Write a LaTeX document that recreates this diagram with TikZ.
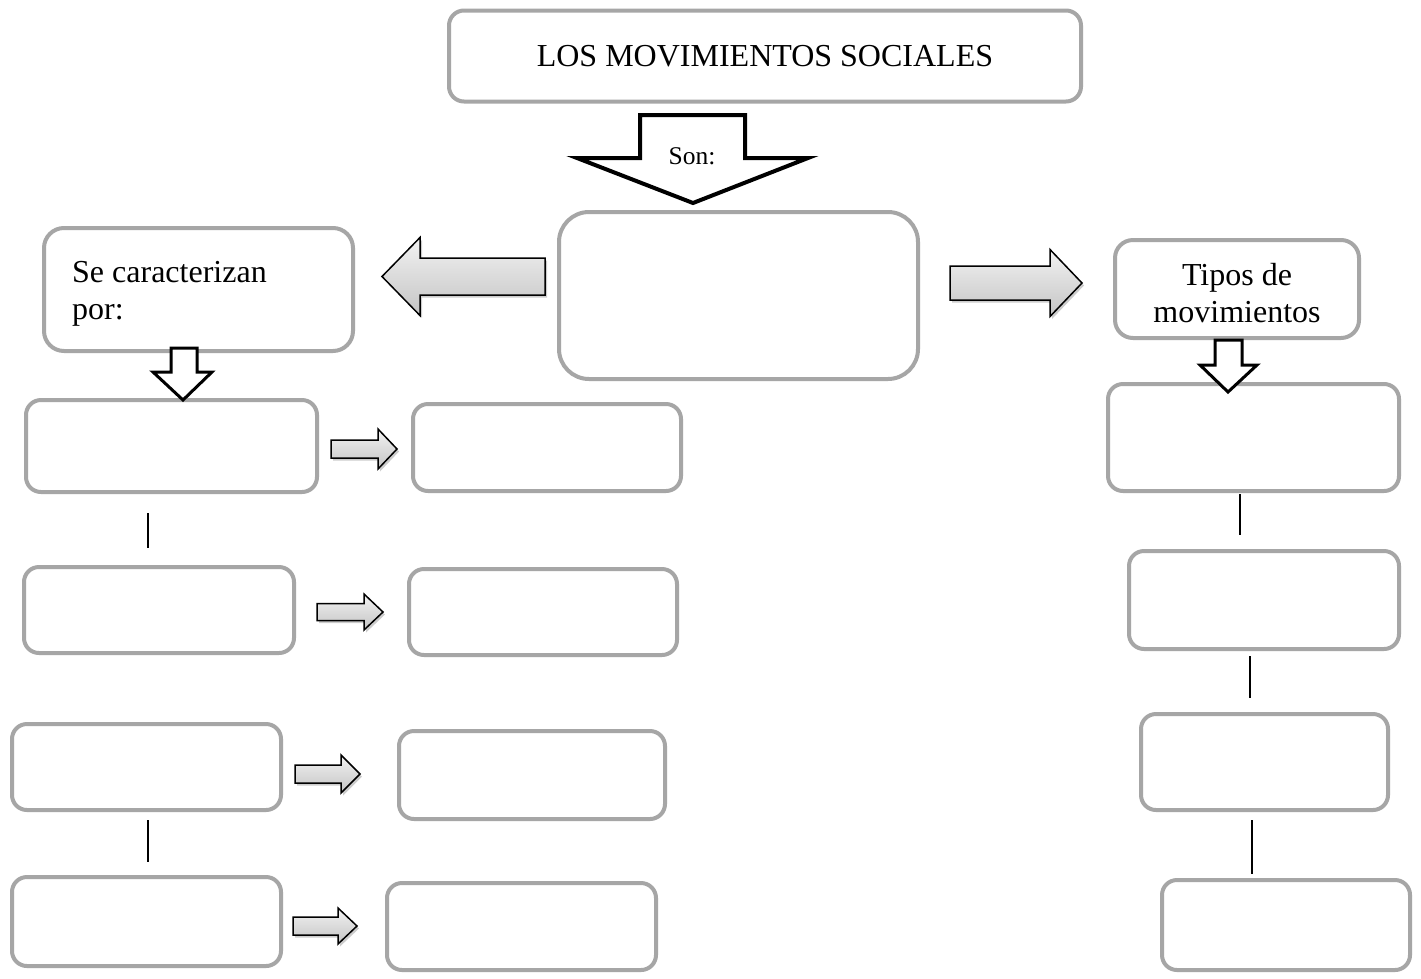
\documentclass[tikz,border=0pt]{standalone}
\usepackage{fontspec}
\setmainfont{Liberation Serif}
\usetikzlibrary{shadows}
\definecolor{boxgray}{HTML}{A6A6A6}
\definecolor{arrtop}{HTML}{F2F2F2}
\definecolor{arrbot}{HTML}{C4C4C4}
\tikzset{
  box/.style={draw=boxgray, line width=4pt, rounded corners=15pt, fill=white, inner sep=0pt},
  bigtext/.style={font=\fontsize{32}{37}\selectfont},
  grayarr/.style={draw=black, line width=1.5pt, line join=miter, top color=arrtop, bottom color=arrbot,
    drop shadow={shadow xshift=2pt, shadow yshift=-2.5pt, opacity=0.2, fill=black}},
  downarr/.style={draw=black, fill=white, line join=miter},
  vline/.style={draw=black, line width=2pt}
}
\newcommand\hgarrow[6]{% x1 x2 xh yc hb hh
  \draw[grayarr] (#1,#4-#5) -- (#3,#4-#5) -- (#3,#4-#6) -- (#2,#4) -- (#3,#4+#6) -- (#3,#4+#5) -- (#1,#4+#5) -- cycle;}
\newcommand\vdarrow[9]{% linewidth sx1 sx2 top shoulder hx1 hx2 tipx tipy
  \draw[downarr, line width=#1] (#2,#4) -- (#3,#4) -- (#3,#5) -- (#7,#5) -- (#8,#9) -- (#6,#5) -- (#2,#5) -- cycle;}
\begin{document}
\begin{tikzpicture}[x=1pt, y=-1pt]
  \useasboundingbox[fill=white] (0,0) rectangle (1421,978);

  % top boxes
  \node[box, bigtext, minimum width=632pt, minimum height=91pt] (title) at (765,56) {LOS MOVIMIENTOS SOCIALES};
  \node[box, rounded corners=30pt, minimum width=359pt, minimum height=167pt] (center) at (738.5,295.5) {};
  \node[box, rounded corners=20pt, minimum width=309pt, minimum height=123pt] (carac) at (198.5,289.5) {};
  \node[bigtext, anchor=north west, inner sep=0pt, align=left] (caracT) at (72,261) {Se caracterizan\\por:};
  \node[box, rounded corners=18pt, minimum width=244pt, minimum height=98pt] (tipos) at (1237,289) {};
  \node[bigtext, anchor=north, inner sep=0pt, align=center] (tiposT) at (1237,263) {Tipos de\\movimientos};

  % left column
  \node[box, minimum width=291pt, minimum height=92pt] (L1) at (171.5,446) {};
  \node[box, minimum width=270pt, minimum height=86pt] (L2) at (159,610) {};
  \node[box, minimum width=269pt, minimum height=86pt] (L3) at (146.5,767) {};
  \node[box, minimum width=269pt, minimum height=89pt] (L4) at (146.5,921.5) {};
  % middle column
  \node[box, minimum width=268pt, minimum height=87pt] (M1) at (547,447.5) {};
  \node[box, minimum width=268pt, minimum height=86pt] (M2) at (543,612) {};
  \node[box, minimum width=266pt, minimum height=88pt] (M3) at (532,775) {};
  \node[box, minimum width=269pt, minimum height=87pt] (M4) at (521.5,926.5) {};
  % right column
  \node[box, minimum width=291pt, minimum height=107pt] (R1) at (1253.5,437.5) {};
  \node[box, minimum width=270pt, minimum height=98pt] (R2) at (1264,600) {};
  \node[box, minimum width=247pt, minimum height=96pt] (R3) at (1264.5,762) {};
  \node[box, minimum width=248pt, minimum height=90pt] (R4) at (1286,925) {};

  % down arrows
  \vdarrow{4pt}{640}{745}{115}{158}{577}{808}{693}{203}
  \node[font=\fontsize{25.5}{30}\selectfont, anchor=base] (son) at (692,164) {Son:};
  \vdarrow{3pt}{171}{197}{348}{372}{153}{212}{183}{400}
  \vdarrow{3pt}{1215}{1242}{340}{365}{1200}{1257}{1228}{392}

  % big gray arrows
  \hgarrow{545}{382}{420}{276.5}{18.5}{39}
  \hgarrow{950}{1082}{1050}{283}{17}{33.5}
  % small gray arrows
  \hgarrow{331}{397}{378}{449}{9}{20}
  \hgarrow{317}{383}{364}{612}{8.5}{18}
  \hgarrow{295}{360}{341}{774}{9}{19}
  \hgarrow{293}{357}{338}{926}{9}{18}

  % vertical connector lines
  \coordinate (va1) at (148,513); \coordinate (vb1) at (148,548);
  \coordinate (va2) at (148,820); \coordinate (vb2) at (148,862);
  \coordinate (va3) at (1240,494); \coordinate (vb3) at (1240,535);
  \coordinate (va4) at (1250,656); \coordinate (vb4) at (1250,698);
  \coordinate (va5) at (1252,820); \coordinate (vb5) at (1252,874);
  \draw[vline] (va1) -- (vb1);
  \draw[vline] (va2) -- (vb2);
  \draw[vline] (va3) -- (vb3);
  \draw[vline] (va4) -- (vb4);
  \draw[vline] (va5) -- (vb5);
\end{tikzpicture}
\end{document}
